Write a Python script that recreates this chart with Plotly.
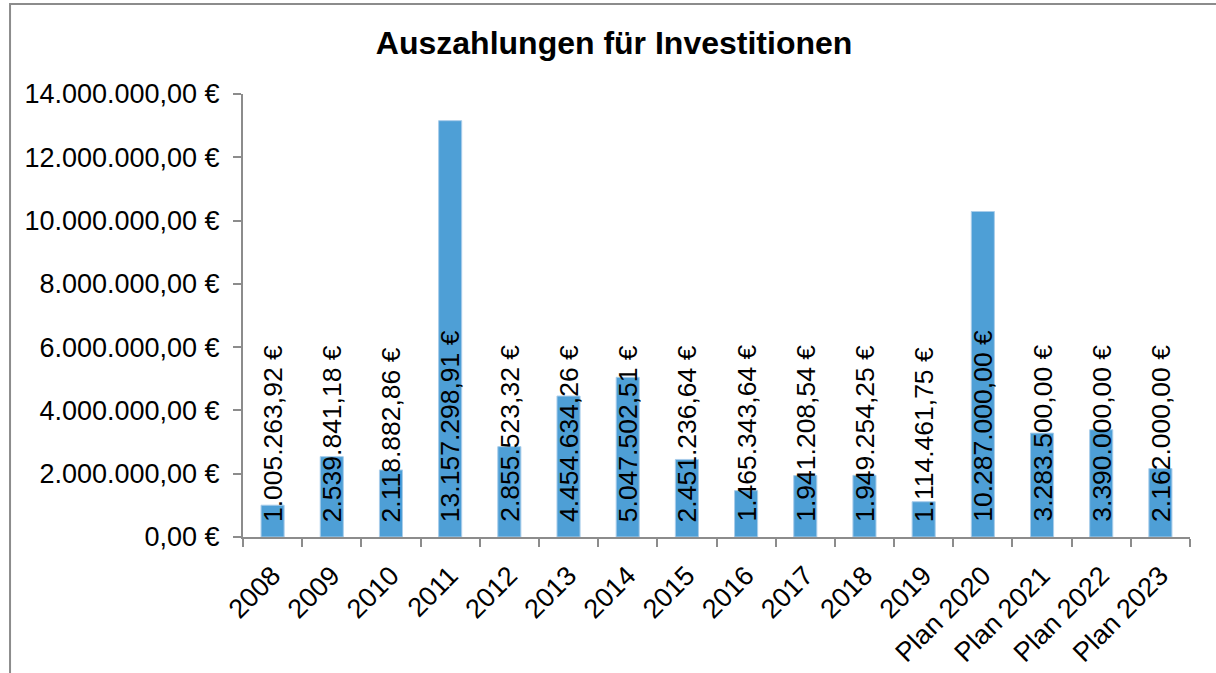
import plotly.graph_objects as go

# Auszahlungen je Jahr (in Euro)
jahre = ['2008', '2009', '2010', '2011', '2012', '2013', '2014', '2015',
         '2016', '2017', '2018', '2019', 'Plan 2020', 'Plan 2021', 'Plan 2022', 'Plan 2023']
auszahlungen = [1005263.92, 2539841.18, 2118882.86, 13157298.91, 2855523.32, 4454634.26,
                5047502.51, 2451236.64, 1465343.64, 1941208.54, 1949254.25, 1114461.75,
                10287000.00, 3283500.00, 3390000.00, 2162000.00]
y_ticks = [0, 2000000, 4000000, 6000000, 8000000, 10000000, 12000000, 14000000]


def euro(v):
    # deutsches Zahlenformat: 1.234.567,89 €
    s = f'{v:,.2f}'.replace(',', 'X').replace('.', ',').replace('X', '.')
    return s + ' €'


FONT = 'Liberation Sans, Arial, sans-serif'

fig = go.Figure()
fig.add_trace(go.Bar(
    x=jahre, y=auszahlungen,
    marker=dict(color='#4e9fd6', line=dict(color='#a9cdea', width=1)),
    width=0.39,
    hoverinfo='x+y',
))

# Datenbeschriftungen, senkrecht ab Balkenfuss (x = Kategorie-Index)
for i, v in enumerate(auszahlungen):
    fig.add_annotation(x=i, y=0, text=euro(v), textangle=-90, showarrow=False,
                       xanchor='center', yanchor='bottom', yshift=13,
                       font=dict(family=FONT, size=26.5, color='black'))

# Rahmen des Diagrammbereichs
fig.add_shape(type='rect', xref='paper', yref='paper',
              x0=-0.246, x1=1.1, y0=-0.5, y1=1.203,
              line=dict(color='#8c8c8c', width=2), layer='below')

fig.update_layout(
    width=1216, height=673,
    margin=dict(l=243, r=26, t=94, b=136),
    paper_bgcolor='white', plot_bgcolor='white',
    showlegend=False,
    bargap=0.61,
    title=dict(text='<b>Auszahlungen für Investitionen</b>', x=0.505, xref='container',
               y=1 - 43 / 673, yref='container', xanchor='center', yanchor='middle',
               font=dict(family=FONT, size=32, color='black')),
    font=dict(family=FONT, size=27, color='black'),
)
fig.update_xaxes(
    type='category', range=[-0.5, len(jahre) - 0.5], automargin=False,
    showline=True, linecolor='#8c8c8c', linewidth=2,
    ticks='outside', ticklen=8, tickcolor='#8c8c8c', tickwidth=2,
    tickson='boundaries', tickangle=-45, showgrid=False,
    ticklabelstandoff=10,
    tickfont=dict(family=FONT, size=27, color='black'),
)
fig.update_yaxes(
    range=[0, 14000000], tickvals=y_ticks, ticktext=[euro(v) for v in y_ticks],
    automargin=False,
    showline=True, linecolor='#8c8c8c', linewidth=2,
    ticks='outside', ticklen=8, tickcolor='#8c8c8c', tickwidth=2,
    ticklabelstandoff=8,
    showgrid=False, zeroline=False,
    tickfont=dict(family=FONT, size=27, color='black'),
)

fig.write_html('out.html', config={'displayModeBar': False},
               post_script="document.body.style.margin='0';")
